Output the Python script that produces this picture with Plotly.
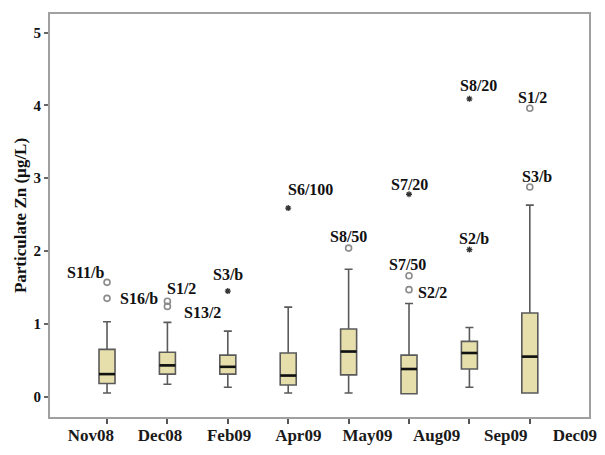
import plotly.graph_objects as go

# ---- data ----
months = ["Nov08", "Dec08", "Feb09", "Apr09", "May09", "Aug09", "Sep09", "Dec09"]
lower_whisker = [0.05, 0.17, 0.13, 0.05, 0.05, 0.04, 0.13, 0.05]
q1 = [0.18, 0.31, 0.31, 0.16, 0.30, 0.04, 0.38, 0.05]
median = [0.31, 0.43, 0.41, 0.29, 0.62, 0.38, 0.60, 0.55]
q3 = [0.65, 0.61, 0.57, 0.60, 0.93, 0.57, 0.76, 1.15]
upper_whisker = [1.03, 1.02, 0.90, 1.23, 1.75, 1.28, 0.95, 2.63]

out_month = [0, 0, 1, 1, 2, 3, 4, 5, 5, 5, 6, 6, 7, 7]
out_value = [1.57, 1.35, 1.31, 1.24, 1.45, 2.59, 2.04, 2.78, 1.66, 1.47, 4.09, 2.02, 3.96, 2.88]
out_label = ["S11/b", "S16/b", "S1/2", "S13/2", "S3/b", "S6/100", "S8/50",
             "S7/20", "S7/50", "S2/2", "S8/20", "S2/b", "S1/2", "S3/b"]
out_kind = ["o", "o", "o", "o", "*", "*", "o", "*", "o", "o", "*", "*", "o", "o"]

y_ticks = [0, 1, 2, 3, 4, 5]

# label offsets in pixels (layout only)
label_dx = [-22, 32, 14, 35, 0, 22, 0, 0, -2, 23, 9, 5, 3, 7]
label_dy = [-10, 0, -13, 6, -17, -19, -12, -10, -11, 3, -13, -11, -11, -10]

serif = "Liberation Serif"
box_w = 0.265
pos = list(range(len(months)))

fig = go.Figure()

fig.add_trace(go.Box(
    x=pos, q1=q1, median=median, q3=q3,
    lowerfence=lower_whisker, upperfence=upper_whisker,
    width=box_w, whiskerwidth=0.5,
    fillcolor="#E6DFAC", line=dict(color="#5a5a5a", width=1.6),
    boxpoints=False, hoverinfo="skip", showlegend=False,
))

# thick median lines
mx, my = [], []
for i, m in zip(pos, median):
    mx += [i - box_w / 2, i + box_w / 2, None]
    my += [m, m, None]
fig.add_trace(go.Scatter(x=mx, y=my, mode="lines",
                         line=dict(color="#111111", width=2.6),
                         hoverinfo="skip", showlegend=False))

# outliers
cx = [m for m, k in zip(out_month, out_kind) if k == "o"]
cy = [v for v, k in zip(out_value, out_kind) if k == "o"]
sx = [m for m, k in zip(out_month, out_kind) if k == "*"]
sy = [v for v, k in zip(out_value, out_kind) if k == "*"]
fig.add_trace(go.Scatter(x=cx, y=cy, mode="markers",
                         marker=dict(symbol="circle-open", size=6, color="#8a8a8a",
                                     line=dict(width=1.6, color="#8a8a8a")),
                         hoverinfo="skip", showlegend=False))
fig.add_trace(go.Scatter(x=sx, y=sy, mode="markers",
                         marker=dict(symbol="asterisk-open", size=5, color="#333333",
                                     line=dict(width=1.3, color="#333333")),
                         hoverinfo="skip", showlegend=False))

# helper trace so the label axis is drawn
fig.add_trace(go.Scatter(x=pos, y=[None] * len(pos), xaxis="x2", mode="markers",
                         hoverinfo="skip", showlegend=False))

for m, v, t, dx, dy in zip(out_month, out_value, out_label, label_dx, label_dy):
    fig.add_annotation(x=m, y=v, xref="x", yref="y", text="<b>%s</b>" % t,
                       showarrow=False, xshift=dx, yshift=-dy,
                       font=dict(family=serif, size=16, color="#111111"))

fig.update_layout(
    width=605, height=455,
    margin=dict(l=50, r=16, t=14, b=38),
    paper_bgcolor="white", plot_bgcolor="white",
    xaxis=dict(range=[-0.944, 7.98], tickvals=pos, showticklabels=False,
               ticks="outside", ticklen=5, tickwidth=1.5, tickcolor="#555555",
               showline=True, mirror=True, linecolor="#a0a0a0", linewidth=2,
               showgrid=False, zeroline=False, automargin=False),
    xaxis2=dict(overlaying="x", anchor="y", side="bottom",
                range=[-0.591, 7.205], tickvals=pos,
                ticktext=["<b>%s</b>" % m for m in months],
                ticks="", showline=False, showgrid=False, zeroline=False,
                ticklabelstandoff=6, automargin=False,
                tickfont=dict(family=serif, size=17, color="#1a1a1a")),
    yaxis=dict(range=[-0.279, 5.255], tickvals=y_ticks,
               ticktext=["<b>%d</b>" % t for t in y_ticks],
               ticks="outside", ticklen=4, tickwidth=1.5, tickcolor="#666666",
               showline=True, mirror=True, linecolor="#a0a0a0", linewidth=2,
               showgrid=False, zeroline=False, automargin=False,
               tickfont=dict(family=serif, size=15, color="#111111"),
               title=dict(text="<b>Particulate Zn (µg/L)</b>", standoff=3,
                          font=dict(family=serif, size=17, color="#111111"))),
    font=dict(family=serif),
)

fig.write_html("out.html", config={"displayModeBar": False},
               post_script="document.body.style.margin='0';document.body.style.overflow='hidden';")
